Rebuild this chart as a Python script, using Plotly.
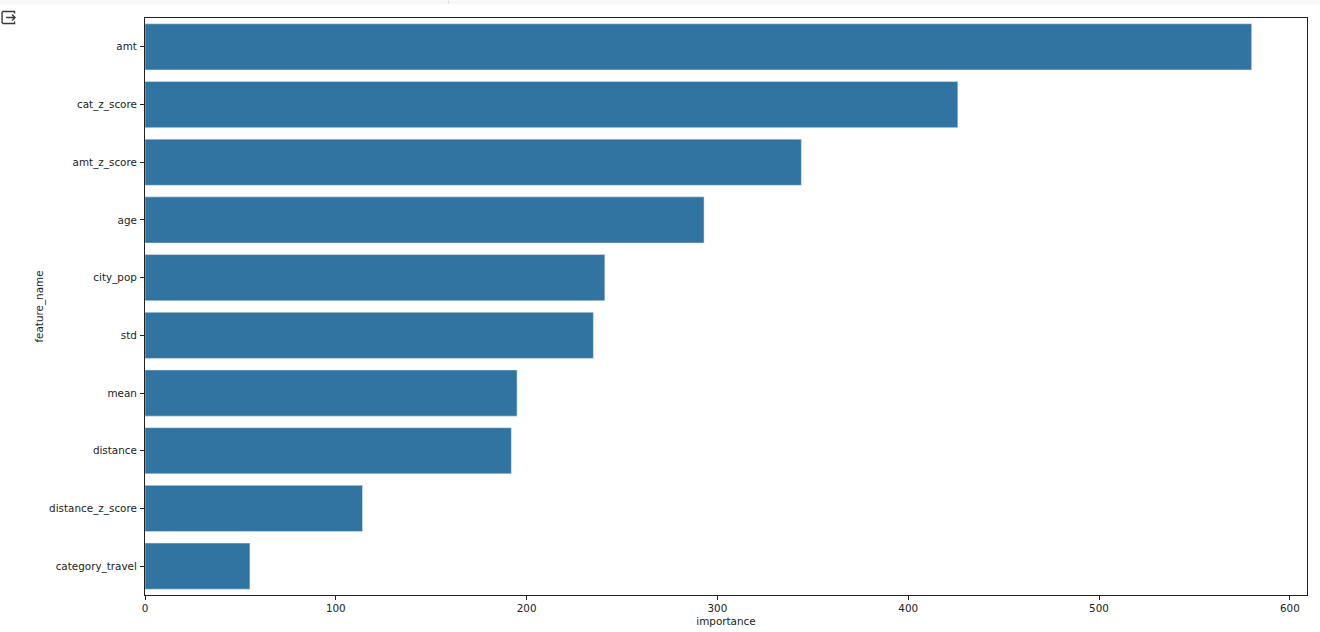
import plotly.graph_objects as go

features = ["amt", "cat_z_score", "amt_z_score", "age", "city_pop", "std", "mean",
            "distance", "distance_z_score", "category_travel"]
importance = [580, 426, 344, 293, 241, 235, 195, 192, 114, 55]
x_ticks = [0, 100, 200, 300, 400, 500, 600]

W, H = 1320, 632
L, R, T, B = 145, 1307.5, 17.5, 595

fig = go.Figure(go.Bar(
    x=importance, y=features, orientation="h",
    marker=dict(color="#3274a1", line=dict(color="#e4edf3", width=0.5)),
    hoverinfo="x+y",
))

def px_x(v):
    return (v - L) / (R - L)

def px_y(v):
    return (B - v) / (B - T)

shapes = [
    # notebook cell's top strip
    dict(type="rect", xref="paper", yref="paper", x0=px_x(0), x1=px_x(W), y0=px_y(3.5), y1=px_y(0),
         fillcolor="#f7f7f7", line_width=0, layer="below"),
    dict(type="line", xref="paper", yref="paper", x0=px_x(448.5), x1=px_x(448.5), y0=px_y(3.5), y1=px_y(0),
         line=dict(color="#dddddd", width=1)),
    # output-cell icon
    dict(type="path", xref="paper", yref="paper",
         path=(f"M {px_x(14.5)} {px_y(13)} L {px_x(14.5)} {px_y(11)} L {px_x(3)} {px_y(11)} "
               f"L {px_x(2)} {px_y(12)} L {px_x(2)} {px_y(22)} L {px_x(3)} {px_y(23)} "
               f"L {px_x(14.5)} {px_y(23)} L {px_x(14.5)} {px_y(21)}"),
         line=dict(color="#3a3a3a", width=1.4)),
    dict(type="path", xref="paper", yref="paper",
         path=(f"M {px_x(6)} {px_y(17)} L {px_x(15)} {px_y(17)} M {px_x(12)} {px_y(14)} "
               f"L {px_x(15)} {px_y(17)} L {px_x(12)} {px_y(20)}"),
         line=dict(color="#3a3a3a", width=1.4)),
]

fig.update_layout(
    width=W, height=H,
    margin=dict(l=L, r=W - R, t=T, b=H - B, pad=0),
    paper_bgcolor="white", plot_bgcolor="white",
    font=dict(family="DejaVu Sans", size=10.4, color="#222222"),
    bargap=0.2,
    showlegend=False,
    shapes=shapes,
    xaxis=dict(
        automargin=False,
        title=dict(text="importance", standoff=4, font=dict(size=10.4)),
        range=[0, 609], tickvals=x_ticks, showgrid=False, zeroline=False,
        ticks="outside", ticklen=4, tickwidth=1, tickcolor="#222222",
        showline=True, linecolor="#222222", linewidth=1, mirror=True,
    ),
    yaxis=dict(
        automargin=False,
        title=dict(text="feature_name", standoff=3, font=dict(size=10.4)),
        categoryorder="array", categoryarray=features,
        range=[9.5, -0.5], showgrid=False, zeroline=False,
        ticks="outside", ticklen=4, tickwidth=1, tickcolor="#222222", ticklabelstandoff=1,
        showline=True, linecolor="#222222", linewidth=1, mirror=True,
    ),
)

fig.write_html("out.html", config={"displayModeBar": False},
               post_script="document.body.style.margin='0';document.body.style.overflow='hidden';")
